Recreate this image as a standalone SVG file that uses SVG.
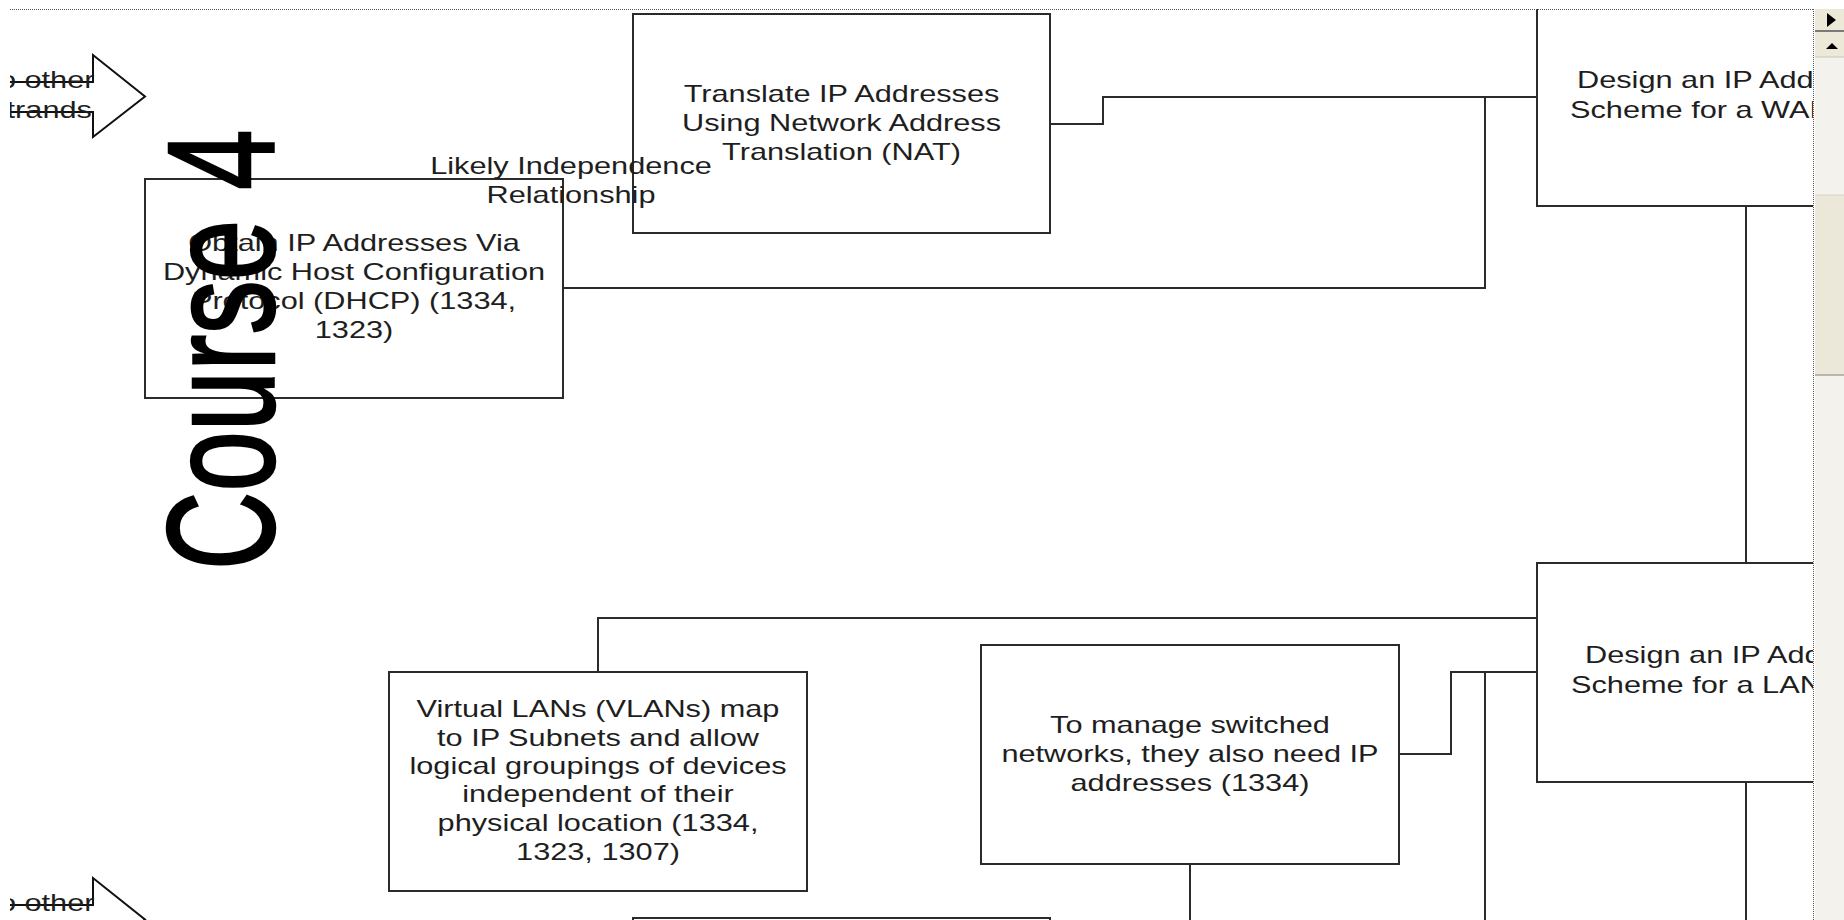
<svg xmlns="http://www.w3.org/2000/svg" width="1844" height="920" viewBox="0 0 1844 920">
  <defs>
    <clipPath id="page"><rect x="10" y="9" width="1803" height="911"/></clipPath>
    <style>
      .box { fill: #ffffff; stroke: #2b2b2b; stroke-width: 2; }
      .wire { fill: none; stroke: #2b2b2b; stroke-width: 2; }
      .lbl { font-family: "Liberation Sans", Arial, sans-serif; font-size: 24px; fill: #1e1e1e; }
      .big { font-family: "Liberation Sans", Arial, sans-serif; font-size: 153px; fill: #000000; stroke: #000000; stroke-width: 2.5; }
      .arrow { fill: #ffffff; stroke: #111111; stroke-width: 2; stroke-linejoin: miter; }
    </style>
    <path id="strandArrow" class="arrow" d="M-60,82 H93 V55 L145,96.5 L93,137 V112 H-60"/>
  </defs>
  <rect x="0" y="0" width="1844" height="920" fill="#ffffff"/>

  <g clip-path="url(#page)">
    <g id="connectors">
      <polyline class="wire" points="1050,124 1103,124 1103,97 1537,97"/>
      <polyline class="wire" points="563,288 1485,288 1485,97"/>
      <line class="wire" x1="1746" y1="206" x2="1746" y2="563"/>
      <polyline class="wire" points="598,672 598,618 1537,618"/>
      <polyline class="wire" points="1399,754 1451,754 1451,672 1537,672"/>
      <line class="wire" x1="1485" y1="672" x2="1485" y2="925"/>
      <line class="wire" x1="1746" y1="782" x2="1746" y2="925"/>
      <line class="wire" x1="1190" y1="864" x2="1190" y2="925"/>
    </g>

    <g id="strands-top">
      <use href="#strandArrow"/>
      <g transform="translate(39 0) scale(1.28 1)">
        <text class="lbl" text-anchor="middle"><tspan x="0" y="88">To other</tspan><tspan x="0" y="118">Strands</tspan></text>
      </g>
    </g>

    <g id="strands-bottom" transform="translate(0 823)">
      <use href="#strandArrow"/>
      <g transform="translate(39 0) scale(1.28 1)">
        <text class="lbl" text-anchor="middle"><tspan x="0" y="88">To other</tspan><tspan x="0" y="118">Strands</tspan></text>
      </g>
    </g>

    <g id="node-nat">
      <rect class="box" x="633" y="14" width="417" height="219"/>
      <g transform="translate(841.5 0) scale(1.28 1)">
        <text class="lbl" text-anchor="middle"><tspan x="0" y="102">Translate IP Addresses</tspan><tspan x="0" y="131">Using Network Address</tspan><tspan x="0" y="160">Translation (NAT)</tspan></text>
      </g>
    </g>

    <g id="node-dhcp">
      <rect class="box" x="145" y="179" width="418" height="219"/>
      <g transform="translate(354 0) scale(1.28 1)">
        <text class="lbl" text-anchor="middle"><tspan x="0" y="251">Obtain IP Addresses Via</tspan><tspan x="0" y="280">Dynamic Host Configuration</tspan><tspan x="0" y="309">Protocol (DHCP) (1334,</tspan><tspan x="0" y="338">1323)</tspan></text>
      </g>
    </g>

    <g id="node-wan">
      <rect class="box" x="1537" y="-12" width="418" height="218"/>
      <g transform="translate(1577 0) scale(1.28 1)">
        <text class="lbl"><tspan x="0" y="88">Design an IP Address</tspan></text>
      </g>
      <g transform="translate(1570 0) scale(1.28 1)">
        <text class="lbl"><tspan x="0" y="118">Scheme for a WAN</tspan></text>
      </g>
    </g>

    <g id="node-lan">
      <rect class="box" x="1537" y="563" width="418" height="219"/>
      <g transform="translate(1585 0) scale(1.28 1)">
        <text class="lbl"><tspan x="0" y="663">Design an IP Address</tspan></text>
      </g>
      <g transform="translate(1571 0) scale(1.28 1)">
        <text class="lbl"><tspan x="0" y="693">Scheme for a LAN</tspan></text>
      </g>
    </g>

    <g id="node-vlan">
      <rect class="box" x="389" y="672" width="418" height="219"/>
      <g transform="translate(598 0) scale(1.28 1)">
        <text class="lbl" text-anchor="middle"><tspan x="0" y="717">Virtual LANs (VLANs) map</tspan><tspan x="0" y="746">to IP Subnets and allow</tspan><tspan x="0" y="774">logical groupings of devices</tspan><tspan x="0" y="802">independent of their</tspan><tspan x="0" y="831">physical location (1334,</tspan><tspan x="0" y="860">1323, 1307)</tspan></text>
      </g>
    </g>

    <g id="node-switched">
      <rect class="box" x="981" y="645" width="418" height="219"/>
      <g transform="translate(1190 0) scale(1.28 1)">
        <text class="lbl" text-anchor="middle"><tspan x="0" y="733">To manage switched</tspan><tspan x="0" y="762">networks, they also need IP</tspan><tspan x="0" y="791">addresses (1334)</tspan></text>
      </g>
    </g>

    <g id="node-bottom">
      <rect class="box" x="633" y="918" width="417" height="219"/>
    </g>

    <g id="label-independence" transform="translate(571 0) scale(1.28 1)">
      <text class="lbl" text-anchor="middle"><tspan x="0" y="174">Likely Independence</tspan><tspan x="0" y="203">Relationship</tspan></text>
    </g>

    <g id="title-course">
      <text class="big" transform="translate(274 570) rotate(-90) scale(0.71 1)">Course 4</text>
    </g>
  </g>

  <g id="page-frame">
    <line x1="10" y1="9.5" x2="1813" y2="9.5" stroke="#555555" stroke-width="1" stroke-dasharray="1 1"/>
    <line x1="1813.5" y1="9" x2="1813.5" y2="920" stroke="#555555" stroke-width="1" stroke-dasharray="1 1"/>
  </g>

  <g id="scrollbar">
    <rect x="1815" y="9" width="29" height="911" fill="#f3f2ec"/>
    <rect x="1815" y="9" width="29" height="22" fill="#ece9d8"/>
    <polygon points="1827,13 1827,27 1836,20" fill="#000000"/>
    <line x1="1815" y1="31" x2="1844" y2="31" stroke="#555555" stroke-width="1.5"/>
    <rect x="1815" y="32" width="29" height="25" fill="#ece9d8"/>
    <line x1="1815" y1="57" x2="1844" y2="57" stroke="#c9c6b8" stroke-width="1"/>
    <polygon points="1826,49 1832,43 1838,49" fill="#000000"/>
    <rect x="1815" y="195" width="29" height="180" fill="#ebe8da"/>
    <line x1="1815" y1="195" x2="1844" y2="195" stroke="#d6d3c6" stroke-width="1"/>
    <line x1="1815" y1="375" x2="1844" y2="375" stroke="#a8a598" stroke-width="1.5"/>
  </g>
</svg>
